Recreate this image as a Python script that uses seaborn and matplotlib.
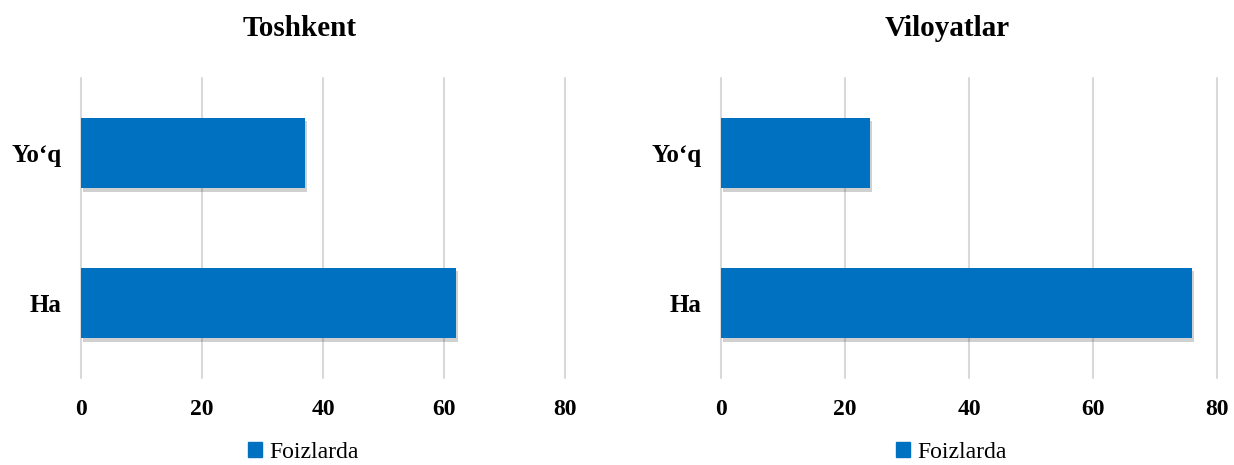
import matplotlib
matplotlib.use('Agg')
import matplotlib.pyplot as plt
import matplotlib.patheffects as pe
from matplotlib.patches import Patch
import seaborn as sns
import pandas as pd

categories = ["Yo\u2018q", "Ha"]
toshkent = [37, 62]
viloyatlar = [24, 76]
titles = ["Toshkent", "Viloyatlar"]
x_ticks = [0, 20, 40, 60, 80]
legend_label = "Foizlarda"

BAR_COLOR = "#0070C0"
GRID_COLOR = "#d9d9d9"

sns.set_theme(style="white")
plt.rcParams['font.family'] = ['Liberation Serif', 'DejaVu Serif']
plt.rcParams['text.color'] = 'black'
plt.rcParams['xtick.color'] = 'black'
plt.rcParams['ytick.color'] = 'black'

W, H = 1234, 465
fig = plt.figure(figsize=(W / 100, H / 100), dpi=100)

panels = [
    (toshkent, titles[0], (81, 565), 303, 300),
    (viloyatlar, titles[1], (721, 1217), 951, 947),
]

top_px, bot_px = 78, 378
for values, title, (x0, x1), leg_cx, title_cx in panels:
    ax = fig.add_axes([x0 / W, 1 - bot_px / H, (x1 - x0) / W, (bot_px - top_px) / H])
    df = pd.DataFrame({"cat": categories, "val": values})
    sns.barplot(data=df, x="val", y="cat", ax=ax, color=BAR_COLOR,
                width=0.47, saturation=1, order=categories)
    for p in ax.patches:
        p.set_path_effects([pe.SimplePatchShadow(offset=(1.5, -2.5), shadow_rgbFace="#444444", alpha=0.25),
                            pe.Normal()])
        p.set_edgecolor("none")
    ax.set_xlim(0, 80)
    ax.set_ylim(1.5, -0.5)
    ax.set_xticks(x_ticks)
    ax.set_xticklabels([str(t) for t in x_ticks])
    ax.grid(axis="x", color=GRID_COLOR, linewidth=1.5)
    for g in ax.get_xgridlines():
        g.set_clip_on(False)
    ax.set_axisbelow(True)
    for s in ax.spines.values():
        s.set_visible(False)
    ax.set_xlabel("")
    ax.set_ylabel("")
    ax.tick_params(axis="x", length=0, pad=15, labelsize=17)
    ax.tick_params(axis="y", length=0, pad=14, labelsize=18)
    for lab in ax.get_xticklabels() + ax.get_yticklabels():
        lab.set_fontweight("bold")
    fig.text(title_cx / W, 1 - 29 / H, title, ha="center", va="center",
             fontsize=21, fontweight="bold")
    fig.legend(handles=[Patch(color=BAR_COLOR, label=legend_label)], loc="center",
               bbox_to_anchor=(leg_cx / W, 1 - 452 / H), frameon=False,
               fontsize=17, handlelength=0.6, handleheight=0.6, handletextpad=0.3,
               borderpad=0.1)

fig.savefig("out.png", dpi=100)
